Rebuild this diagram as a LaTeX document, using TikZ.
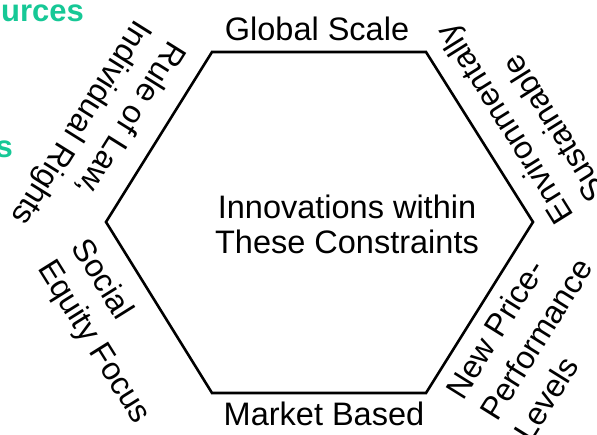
\documentclass[tikz,border=0pt]{standalone}
\usepackage{fontspec}
\setmainfont{Liberation Sans}
\definecolor{accent}{RGB}{22,200,150}
\tikzset{
  edge/.style={line width=2.6pt, line join=miter},
  lbl/.style={inner sep=0pt, font=\fontsize{32.5}{35}\selectfont},
  side/.style={lbl, align=left, font=\fontsize{32}{40}\selectfont},
  partial/.style={inner sep=0pt, text=accent, font=\fontsize{31}{35}\selectfont\bfseries}
}
\begin{document}
\begin{tikzpicture}[x=1pt,y=-1pt]
\useasboundingbox (0,0) rectangle (597,435);
% hexagon corners
\coordinate (tl) at (212,52);
\coordinate (tr) at (426,52);
\coordinate (r)  at (533,222);
\coordinate (br) at (426,393);
\coordinate (bl) at (212,393);
\coordinate (l)  at (106,222);
\draw[edge] (tl) -- (tr) -- (r) -- (br) -- (bl) -- (l) -- cycle;

\node[lbl, align=center] (core) at (347,224)
  {Innovations within\\These Constraints};

\node[lbl, anchor=base] (top) at (317,41) {Global Scale};
\node[lbl, anchor=base] (bottom) at (324,425) {Market Based};

\node[side, rotate=238] (law) at (97,133) {Rule of Law,\\Individual Rights};
\node[side, rotate=122] (env) at (521,114) {Environmentally\\Sustainable};
\node[side, rotate=302] (soc) at (110,332) {Social\\Equity Focus};
\node[side, rotate=58]  (price) at (536,339) {New Price-\\Performance\\Levels};

% text running in from the left margin
\node[partial, anchor=base east] (res) at (84,22) {urces};
\node[partial, anchor=base east] (frag) at (13,158) {s};
\end{tikzpicture}
\end{document}
